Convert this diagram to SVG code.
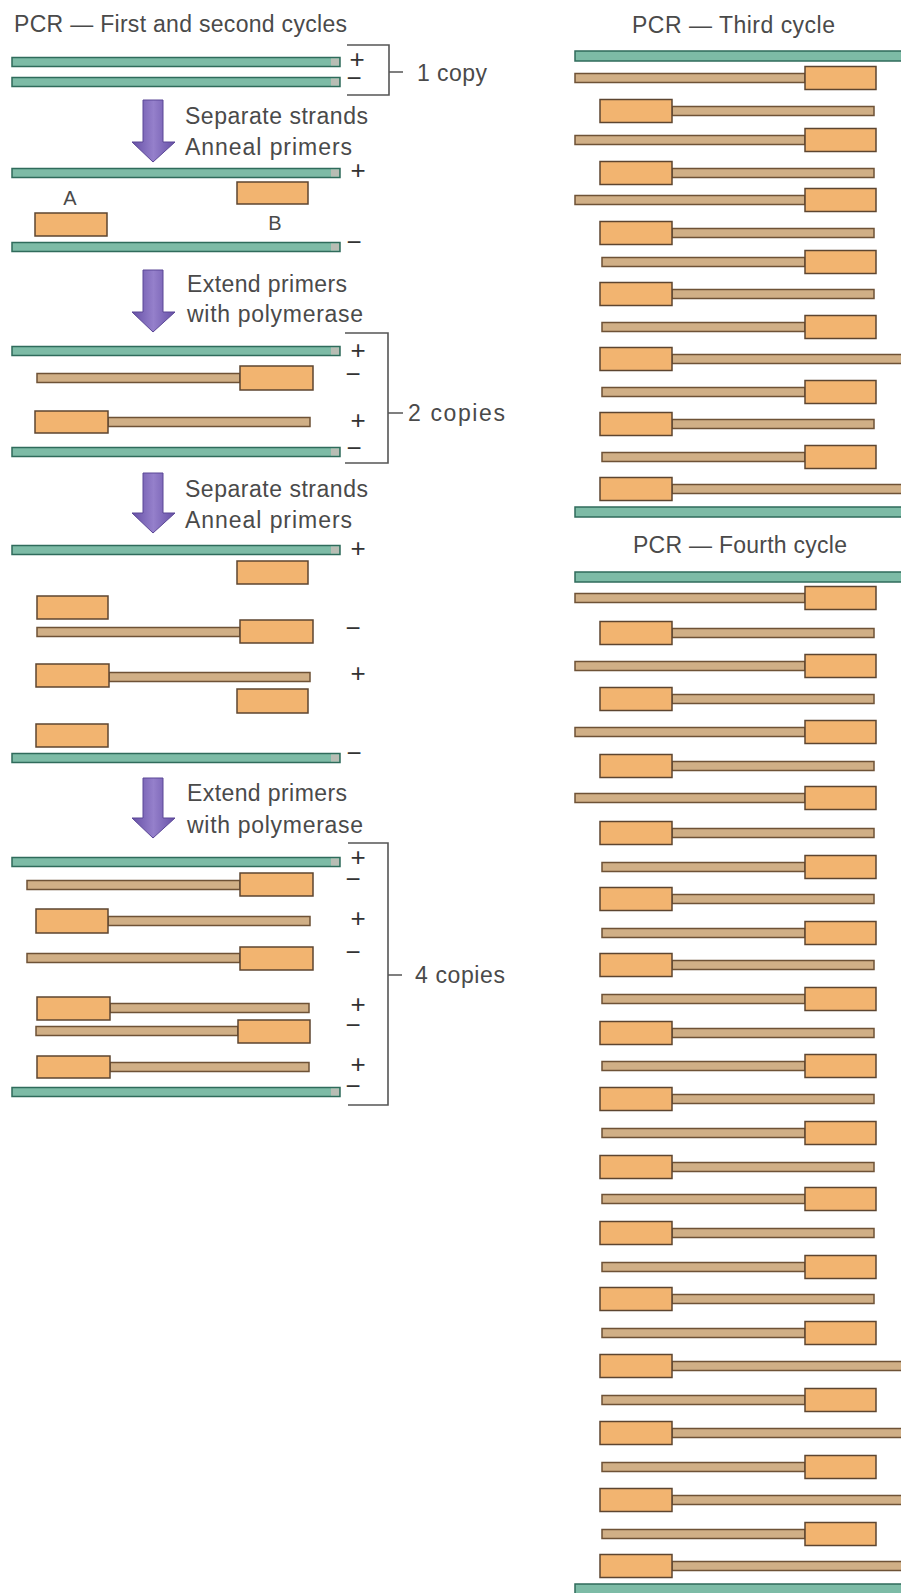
<svg xmlns="http://www.w3.org/2000/svg" width="901" height="1593" viewBox="0 0 901 1593">
<defs>
<linearGradient id="pg" x1="0" y1="0" x2="1" y2="0">
<stop offset="0" stop-color="#6650a6"/>
<stop offset="0.5" stop-color="#9580cb"/>
<stop offset="1" stop-color="#6650a6"/>
</linearGradient>
<style>
.teal{fill:#7dbba6;stroke:#2f6b5b;stroke-width:1.5}
.cap{fill:#b8bdb4;stroke:none}
.tan{fill:#d0af86;stroke:#6e5236;stroke-width:1.5}
.box{fill:#f2b470;stroke:#5d4530;stroke-width:1.5}
.arrow{fill:url(#pg);stroke:#5a4696;stroke-width:1}
.brk{fill:none;stroke:#555;stroke-width:1.6}
text{font-family:"Liberation Sans",Arial,sans-serif;fill:#4a4a4a}
.t{font-size:23px}
.lab{font-size:20px}
.sg{font-size:26px;text-anchor:middle;fill:#333}
</style>
</defs>
<rect width="901" height="1593" fill="#ffffff"/>

<!-- Titles -->
<g id="titles">
<text class="t" x="14" y="32" textLength="333">PCR — First and second cycles</text>
<text class="t" x="632" y="33" textLength="203">PCR — Third cycle</text>
<text class="t" x="633" y="553" textLength="214">PCR — Fourth cycle</text>
</g>

<!-- Connectors: process arrows and brackets -->
<g id="connectors">
<path class="arrow" d="M143,100 H163 V142 H175 L153,162 L132,142 H143 Z"/>
<path class="arrow" d="M143,270 H163 V312 H175 L153,332 L132,312 H143 Z"/>
<path class="arrow" d="M143,473 H163 V513 H175 L153,533 L132,513 H143 Z"/>
<path class="arrow" d="M143,778 H163 V818 H175 L153,838 L132,818 H143 Z"/>
<path class="brk" d="M347,45 H389 V95 H347 M389,72 H403"/>
<path class="brk" d="M345,333 H388 V463 H345 M388,413 H403"/>
<path class="brk" d="M348,843 H388 V1105 H348 M388,975 H402"/>
</g>

<g id="step-labels">
<text class="t" x="185" y="124" textLength="183">Separate strands</text>
<text class="t" x="185" y="155" textLength="167">Anneal primers</text>
<text class="t" x="187" y="292" textLength="160">Extend primers</text>
<text class="t" x="187" y="322" textLength="176">with polymerase</text>
<text class="t" x="185" y="497" textLength="183">Separate strands</text>
<text class="t" x="185" y="528" textLength="167">Anneal primers</text>
<text class="t" x="187" y="801" textLength="160">Extend primers</text>
<text class="t" x="187" y="833" textLength="176">with polymerase</text>
<text class="t" x="417" y="81" textLength="70">1 copy</text>
<text class="t" x="408" y="421" textLength="97">2 copies</text>
<text class="t" x="415" y="983" textLength="90">4 copies</text>
</g>

<!-- Left column: cycle 1 start -->
<g id="c1-template-plus"><rect class="teal" x="12" y="57.5" width="328" height="9"/><rect class="cap" x="331" y="58.5" width="8" height="7"/></g>
<g id="c1-template-minus"><rect class="teal" x="12" y="77.5" width="328" height="9"/><rect class="cap" x="331" y="78.5" width="8" height="7"/></g>
<g id="c1-signs"><text class="sg"><tspan x="357" y="68">+</tspan><tspan x="354" y="87">−</tspan></text></g>

<!-- After annealing 1 -->
<g id="c1a-template-plus"><rect class="teal" x="12" y="168.5" width="328" height="9"/><rect class="cap" x="331" y="169.5" width="8" height="7"/><text class="sg" x="358" y="179">+</text></g>
<g id="c1a-primerB"><rect class="box" x="237" y="182" width="71" height="22"/><text class="lab" x="275" y="230" text-anchor="middle">B</text></g>
<g id="c1a-primerA"><rect class="box" x="35" y="213" width="72" height="23"/><text class="lab" x="70" y="205" text-anchor="middle">A</text></g>
<g id="c1a-template-minus"><rect class="teal" x="12" y="242.5" width="328" height="9"/><rect class="cap" x="331" y="243.5" width="8" height="7"/><text class="sg" x="354" y="251">−</text></g>

<!-- After extension 1 -->
<g id="c1e-t1"><rect class="teal" x="12" y="346.5" width="328" height="9"/><rect class="cap" x="331" y="347.5" width="8" height="7"/><text class="sg" x="358" y="359">+</text></g>
<g id="c1e-n1"><rect class="tan" x="37" y="373.5" width="203" height="9"/><rect class="box" x="240" y="366" width="73" height="24"/><text class="sg" x="353" y="383">−</text></g>
<g id="c1e-n2"><rect class="tan" x="108" y="417.5" width="202" height="9"/><rect class="box" x="35" y="411" width="73" height="22"/><text class="sg" x="358" y="429">+</text></g>
<g id="c1e-t2"><rect class="teal" x="12" y="447.5" width="328" height="9"/><rect class="cap" x="331" y="448.5" width="8" height="7"/><text class="sg" x="354" y="457">−</text></g>

<!-- After annealing 2 -->
<g id="c2a-t1"><rect class="teal" x="12" y="545.5" width="328" height="9"/><rect class="cap" x="331" y="546.5" width="8" height="7"/><text class="sg" x="358" y="557">+</text></g>
<g id="c2a-pB1"><rect class="box" x="237" y="561" width="71" height="23"/></g>
<g id="c2a-pA1"><rect class="box" x="37" y="596" width="71" height="23"/></g>
<g id="c2a-n1"><rect class="tan" x="37" y="627.5" width="203" height="9"/><rect class="box" x="240" y="620" width="73" height="23"/><text class="sg" x="353" y="637">−</text></g>
<g id="c2a-n2"><rect class="tan" x="109" y="672.5" width="201" height="9"/><rect class="box" x="36" y="664" width="73" height="23"/><text class="sg" x="358" y="682">+</text></g>
<g id="c2a-pB2"><rect class="box" x="237" y="689" width="71" height="24"/></g>
<g id="c2a-pA2"><rect class="box" x="36" y="724" width="72" height="23"/></g>
<g id="c2a-t2"><rect class="teal" x="12" y="753.5" width="328" height="9"/><rect class="cap" x="331" y="754.5" width="8" height="7"/><text class="sg" x="354" y="762">−</text></g>

<!-- After extension 2 -->
<g id="c2e-t1"><rect class="teal" x="12" y="857.5" width="328" height="9"/><rect class="cap" x="331" y="858.5" width="8" height="7"/></g>
<g id="c2e-s1"><rect class="tan" x="27" y="880.5" width="213" height="9"/><rect class="box" x="240" y="873" width="73" height="23"/></g>
<g id="c2e-signs1"><text class="sg"><tspan x="358" y="866">+</tspan><tspan x="353" y="888">−</tspan></text></g>
<g id="c2e-s2"><rect class="tan" x="108" y="916.5" width="202" height="9"/><rect class="box" x="36" y="909" width="72" height="24"/><text class="sg" x="358" y="927">+</text></g>
<g id="c2e-s3"><rect class="tan" x="27" y="953.5" width="213" height="9"/><rect class="box" x="240" y="947" width="73" height="23"/><text class="sg" x="353" y="961">−</text></g>
<g id="c2e-s4"><rect class="tan" x="110" y="1003.5" width="199" height="9"/><rect class="box" x="37" y="997" width="73" height="23"/></g>
<g id="c2e-s5"><rect class="tan" x="36" y="1026.5" width="202" height="9"/><rect class="box" x="238" y="1020" width="72" height="23"/></g>
<g id="c2e-signs2"><text class="sg"><tspan x="358" y="1013">+</tspan><tspan x="353" y="1034">−</tspan></text></g>
<g id="c2e-s6"><rect class="tan" x="110" y="1062.5" width="199" height="9"/><rect class="box" x="37" y="1056" width="73" height="22"/></g>
<g id="c2e-t2"><rect class="teal" x="12" y="1087.5" width="328" height="9"/><rect class="cap" x="331" y="1088.5" width="8" height="7"/></g>
<g id="c2e-signs3"><text class="sg"><tspan x="358" y="1073">+</tspan><tspan x="353" y="1095">−</tspan></text></g>

<!-- Third cycle -->
<g id="c3-top"><rect class="teal" x="575" y="51" width="330" height="10"/></g>
<g id="c3-r0"><rect class="tan" x="575" y="73.5" width="230" height="9"/><rect class="box" x="805" y="66.5" width="71" height="23"/></g>
<g id="c3-r1"><rect class="tan" x="672" y="106.5" width="202" height="9"/><rect class="box" x="600" y="99.5" width="72" height="23"/></g>
<g id="c3-r2"><rect class="tan" x="575" y="135.5" width="230" height="9"/><rect class="box" x="805" y="128.5" width="71" height="23"/></g>
<g id="c3-r3"><rect class="tan" x="672" y="168.5" width="202" height="9"/><rect class="box" x="600" y="161.5" width="72" height="23"/></g>
<g id="c3-r4"><rect class="tan" x="575" y="195.5" width="230" height="9"/><rect class="box" x="805" y="188.5" width="71" height="23"/></g>
<g id="c3-r5"><rect class="tan" x="672" y="228.5" width="202" height="9"/><rect class="box" x="600" y="221.5" width="72" height="23"/></g>
<g id="c3-r6"><rect class="tan" x="602" y="257.5" width="203" height="9"/><rect class="box" x="805" y="250.5" width="71" height="23"/></g>
<g id="c3-r7"><rect class="tan" x="672" y="289.5" width="202" height="9"/><rect class="box" x="600" y="282.5" width="72" height="23"/></g>
<g id="c3-r8"><rect class="tan" x="602" y="322.5" width="203" height="9"/><rect class="box" x="805" y="315.5" width="71" height="23"/></g>
<g id="c3-r9"><rect class="tan" x="672" y="354.5" width="233" height="9"/><rect class="box" x="600" y="347.5" width="72" height="23"/></g>
<g id="c3-r10"><rect class="tan" x="602" y="387.5" width="203" height="9"/><rect class="box" x="805" y="380.5" width="71" height="23"/></g>
<g id="c3-r11"><rect class="tan" x="672" y="419.5" width="202" height="9"/><rect class="box" x="600" y="412.5" width="72" height="23"/></g>
<g id="c3-r12"><rect class="tan" x="602" y="452.5" width="203" height="9"/><rect class="box" x="805" y="445.5" width="71" height="23"/></g>
<g id="c3-r13"><rect class="tan" x="672" y="484.5" width="233" height="9"/><rect class="box" x="600" y="477.5" width="72" height="23"/></g>
<g id="c3-bottom"><rect class="teal" x="575" y="507" width="330" height="10"/></g>

<!-- Fourth cycle -->
<g id="c4-top"><rect class="teal" x="575" y="572" width="330" height="10"/></g>
<g id="c4-r0"><rect class="tan" x="575" y="593.5" width="230" height="9"/><rect class="box" x="805" y="586.5" width="71" height="23"/></g>
<g id="c4-r1"><rect class="tan" x="672" y="628.5" width="202" height="9"/><rect class="box" x="600" y="621.5" width="72" height="23"/></g>
<g id="c4-r2"><rect class="tan" x="575" y="661.5" width="230" height="9"/><rect class="box" x="805" y="654.5" width="71" height="23"/></g>
<g id="c4-r3"><rect class="tan" x="672" y="694.5" width="202" height="9"/><rect class="box" x="600" y="687.5" width="72" height="23"/></g>
<g id="c4-r4"><rect class="tan" x="575" y="727.5" width="230" height="9"/><rect class="box" x="805" y="720.5" width="71" height="23"/></g>
<g id="c4-r5"><rect class="tan" x="672" y="761.5" width="202" height="9"/><rect class="box" x="600" y="754.5" width="72" height="23"/></g>
<g id="c4-r6"><rect class="tan" x="575" y="793.5" width="230" height="9"/><rect class="box" x="805" y="786.5" width="71" height="23"/></g>
<g id="c4-r7"><rect class="tan" x="672" y="828.5" width="202" height="9"/><rect class="box" x="600" y="821.5" width="72" height="23"/></g>
<g id="c4-r8"><rect class="tan" x="602" y="862.5" width="203" height="9"/><rect class="box" x="805" y="855.5" width="71" height="23"/></g>
<g id="c4-r9"><rect class="tan" x="672" y="894.5" width="202" height="9"/><rect class="box" x="600" y="887.5" width="72" height="23"/></g>
<g id="c4-r10"><rect class="tan" x="602" y="928.5" width="203" height="9"/><rect class="box" x="805" y="921.5" width="71" height="23"/></g>
<g id="c4-r11"><rect class="tan" x="672" y="960.5" width="202" height="9"/><rect class="box" x="600" y="953.5" width="72" height="23"/></g>
<g id="c4-r12"><rect class="tan" x="602" y="994.5" width="203" height="9"/><rect class="box" x="805" y="987.5" width="71" height="23"/></g>
<g id="c4-r13"><rect class="tan" x="672" y="1028.5" width="202" height="9"/><rect class="box" x="600" y="1021.5" width="72" height="23"/></g>
<g id="c4-r14"><rect class="tan" x="602" y="1061.5" width="203" height="9"/><rect class="box" x="805" y="1054.5" width="71" height="23"/></g>
<g id="c4-r15"><rect class="tan" x="672" y="1094.5" width="202" height="9"/><rect class="box" x="600" y="1087.5" width="72" height="23"/></g>
<g id="c4-r16"><rect class="tan" x="602" y="1128.5" width="203" height="9"/><rect class="box" x="805" y="1121.5" width="71" height="23"/></g>
<g id="c4-r17"><rect class="tan" x="672" y="1162.5" width="202" height="9"/><rect class="box" x="600" y="1155.5" width="72" height="23"/></g>
<g id="c4-r18"><rect class="tan" x="602" y="1194.5" width="203" height="9"/><rect class="box" x="805" y="1187.5" width="71" height="23"/></g>
<g id="c4-r19"><rect class="tan" x="672" y="1228.5" width="202" height="9"/><rect class="box" x="600" y="1221.5" width="72" height="23"/></g>
<g id="c4-r20"><rect class="tan" x="602" y="1262.5" width="203" height="9"/><rect class="box" x="805" y="1255.5" width="71" height="23"/></g>
<g id="c4-r21"><rect class="tan" x="672" y="1294.5" width="202" height="9"/><rect class="box" x="600" y="1287.5" width="72" height="23"/></g>
<g id="c4-r22"><rect class="tan" x="602" y="1328.5" width="203" height="9"/><rect class="box" x="805" y="1321.5" width="71" height="23"/></g>
<g id="c4-r23"><rect class="tan" x="672" y="1361.5" width="233" height="9"/><rect class="box" x="600" y="1354.5" width="72" height="23"/></g>
<g id="c4-r24"><rect class="tan" x="602" y="1395.5" width="203" height="9"/><rect class="box" x="805" y="1388.5" width="71" height="23"/></g>
<g id="c4-r25"><rect class="tan" x="672" y="1428.5" width="233" height="9"/><rect class="box" x="600" y="1421.5" width="72" height="23"/></g>
<g id="c4-r26"><rect class="tan" x="602" y="1462.5" width="203" height="9"/><rect class="box" x="805" y="1455.5" width="71" height="23"/></g>
<g id="c4-r27"><rect class="tan" x="672" y="1495.5" width="233" height="9"/><rect class="box" x="600" y="1488.5" width="72" height="23"/></g>
<g id="c4-r28"><rect class="tan" x="602" y="1529.5" width="203" height="9"/><rect class="box" x="805" y="1522.5" width="71" height="23"/></g>
<g id="c4-r29"><rect class="tan" x="672" y="1561.5" width="233" height="9"/><rect class="box" x="600" y="1554.5" width="72" height="23"/></g>
<g id="c4-bottom"><rect class="teal" x="575" y="1584" width="330" height="10"/></g>
</svg>
